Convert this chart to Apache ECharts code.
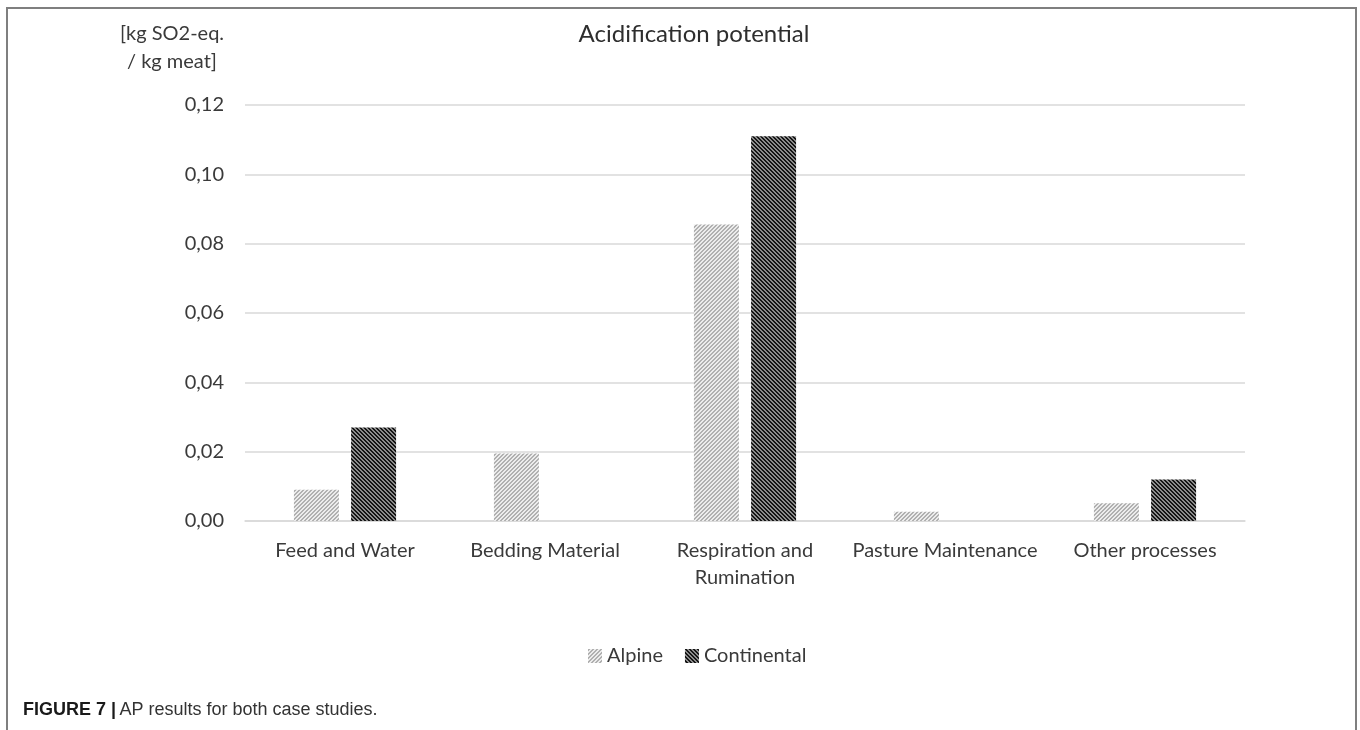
<!DOCTYPE html>
<html>
<head>
<meta charset="utf-8">
<script src="https://cdn.jsdelivr.net/npm/echarts@6/dist/echarts.min.js"></script>
<style>
html,body{margin:0;padding:0;background:#fff;}
#chart{width:1360px;height:730px;}
</style>
</head>
<body>
<div id="chart"></div>
<script>
const categories = ['Feed and Water', 'Bedding Material', 'Respiration and\nRumination', 'Pasture Maintenance', 'Other processes'];
const seriesNames = ['Alpine', 'Continental'];
const alpine = [0.009, 0.0195, 0.0855, 0.0027, 0.0051];
const continental = [0.027, 0, 0.111, 0, 0.012];
const yTicks = { min: 0, max: 0.12, interval: 0.02 };

function makePattern(size, on, off, dir, onCount) {
  const c = document.createElement('canvas');
  c.width = size; c.height = size;
  const g = c.getContext('2d');
  for (let x = 0; x < size; x++) {
    for (let y = 0; y < size; y++) {
      const k = dir > 0 ? (x + y) % size : ((x - y) % size + size) % size;
      g.fillStyle = k < onCount ? on : off;
      g.fillRect(x, y, 1, 1);
    }
  }
  return c;
}
const alpinePat = makePattern(4, '#b0b0b0', '#ececec', 1, 2);
const contPat = makePattern(4, '#141414', '#8c8c8c', -1, 2);

const font = 'Lato, "Open Sans", sans-serif';
const chart = echarts.init(document.getElementById('chart'));
chart.setOption({
  animation: false,
  backgroundColor: '#ffffff',
  grid: { left: 245, right: 115, top: 105, bottom: 209, containLabel: false },
  legend: {
    data: seriesNames,
    left: 583, top: 641,
    itemWidth: 14, itemHeight: 14, itemGap: 22,
    icon: 'rect',
    textStyle: { fontFamily: font, fontSize: 20, color: '#3a3a3a' }
  },
  xAxis: {
    type: 'category',
    data: categories,
    axisLine: { lineStyle: { color: '#d9d9d9', width: 1.5 } },
    axisTick: { show: false },
    axisLabel: { fontFamily: font, fontSize: 20, color: '#3a3a3a', margin: 16, lineHeight: 27, interval: 0 }
  },
  yAxis: {
    type: 'value',
    min: yTicks.min, max: yTicks.max, interval: yTicks.interval,
    axisLine: { show: false },
    axisTick: { show: false },
    splitLine: { lineStyle: { color: '#d9d9d9', width: 1.5 } },
    axisLabel: {
      fontFamily: font, fontSize: 20, color: '#3a3a3a', margin: 21,
      formatter: v => v.toFixed(2).replace('.', ',')
    }
  },
  series: [
    { name: seriesNames[0], type: 'bar', data: alpine, barWidth: 45, barGap: '27%',
      itemStyle: { color: { image: alpinePat, repeat: 'repeat' } } },
    { name: seriesNames[1], type: 'bar', data: continental, barWidth: 45, barGap: '27%',
      itemStyle: { color: { image: contPat, repeat: 'repeat' } } }
  ],
  graphic: [
    { type: 'rect', z: -1, shape: { x: 7, y: 8, width: 1349, height: 760 },
      style: { fill: 'none', stroke: '#7f7f7f', lineWidth: 2 } },
    { type: 'text', x: 694, y: 34,
      style: { text: 'Acidification potential', fontFamily: font, fontSize: 24, fill: '#2e2e2e',
        textAlign: 'center', textVerticalAlign: 'middle' } },
    { type: 'text', x: 172, y: 48,
      style: { text: '[kg SO2-eq.\n/ kg meat]', fontFamily: font, fontSize: 20, lineHeight: 28, fill: '#3a3a3a',
        textAlign: 'center', textVerticalAlign: 'middle' } },
    { type: 'text', x: 23, y: 710,
      style: {
        text: '{b|FIGURE 7 |} {n|AP results for both case studies.}',
        textVerticalAlign: 'middle',
        rich: {
          b: { fontFamily: '"Liberation Sans", Arial, sans-serif', fontSize: 18, fontWeight: 'bold', fill: '#1a1a1a' },
          n: { fontFamily: '"Liberation Sans", Arial, sans-serif', fontSize: 18, fill: '#333333' }
        }
      } }
  ]
});
</script>
</body>
</html>
